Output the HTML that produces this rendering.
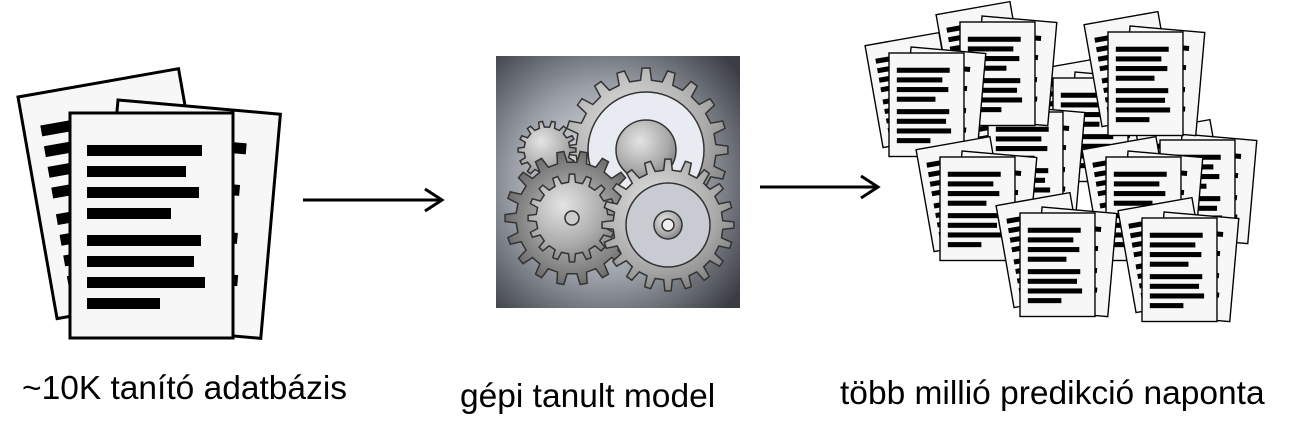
<!DOCTYPE html>
<html><head><meta charset="utf-8">
<style>
html,body{margin:0;padding:0;background:#fff;}
body{width:1291px;height:433px;position:relative;overflow:hidden;font-family:"Liberation Sans",sans-serif;}
.t{position:absolute;font-size:33.5px;line-height:1;color:#000;white-space:nowrap;}
</style></head><body>
<svg width="1291" height="433" style="position:absolute;left:0;top:0">
<defs>
<g id="pg">
<rect x="0" y="0" width="163" height="225" fill="#f7f7f7" stroke="#000" stroke-width="3"/>
<g fill="#000">
<rect x="17" y="32" width="115" height="11"/><rect x="17" y="53" width="99" height="11"/>
<rect x="17" y="74" width="112" height="11"/><rect x="17" y="95" width="84" height="11"/>
<rect x="17" y="122" width="114" height="11"/><rect x="17" y="143" width="107" height="11"/>
<rect x="17" y="164" width="118" height="11"/><rect x="17" y="185" width="73" height="11"/>
</g></g>
<g id="stack">
<use href="#pg" transform="translate(18,97) rotate(-10)"/>
<use href="#pg" transform="translate(118,100) rotate(5)"/>
<use href="#pg" transform="translate(70,113)"/>
</g>
<radialGradient id="bg" cx="0.45" cy="0.5" r="0.7">
<stop offset="0" stop-color="#f4f5f8"/><stop offset="0.55" stop-color="#9a9ea6"/><stop offset="1" stop-color="#3a3d44"/>
</radialGradient>
<radialGradient id="metal" cx="0.4" cy="0.35" r="0.8">
<stop offset="0" stop-color="#e4e4e4"/><stop offset="0.6" stop-color="#a8a8a8"/><stop offset="1" stop-color="#6e6e6e"/>
</radialGradient>
<radialGradient id="dark" cx="0.5" cy="0.5" r="0.6">
<stop offset="0" stop-color="#d8d8d8"/><stop offset="0.6" stop-color="#8a8a8a"/><stop offset="1" stop-color="#5a5a5a"/>
</radialGradient>
</defs>
<use href="#stack"/>
<g id="many"></g>
<line x1="303" y1="200" x2="440" y2="200" stroke="#000" stroke-width="3"/>
<polyline points="425,189 442,200 425,211" fill="none" stroke="#000" stroke-width="3"/>
<line x1="760" y1="187" x2="876" y2="187" stroke="#000" stroke-width="3"/>
<polyline points="861,176 878,187 861,198" fill="none" stroke="#000" stroke-width="3"/>
<rect x="496" y="56" width="244" height="252" fill="url(#bg)"/>
<g id="gears"></g>
</svg>
<div class="t" style="left:22px;top:372px">~10K tanító adatbázis</div>
<div class="t" style="left:460px;top:380px">gépi tanult model</div>
<div class="t" style="left:840px;top:377px">több millió predikció naponta</div>
<script>
var ns="http://www.w3.org/2000/svg";
var s=0.46;
var order=[[1053,78],[988,112],[1160,140],[960,22],[1108,32],[889,53],[940,157],[1106,157],[1020,213],[1142,218]];
var m=document.getElementById("many");
order.forEach(function(p){var u=document.createElementNS(ns,"use");u.setAttribute("href","#stack");
u.setAttribute("transform","translate("+(p[0]-70*s)+","+(p[1]-113*s)+") scale("+s+")");m.appendChild(u);});
function gear(cx,cy,r,n,th,fill){var d="";for(var i=0;i<n;i++){var a=i*2*Math.PI/n,w=Math.PI/n;
var pts=[[a-w*0.5,r-th],[a-w*0.3,r],[a+w*0.3,r],[a+w*0.5,r-th],[a+w*1.5,r-th]];
pts.forEach(function(q,j){var x=cx+q[1]*Math.cos(q[0]),y=cy+q[1]*Math.sin(q[0]);d+=(i==0&&j==0?"M":"L")+x.toFixed(1)+","+y.toFixed(1);});}
d+="Z";var p=document.createElementNS(ns,"path");p.setAttribute("d",d);p.setAttribute("fill",fill);p.setAttribute("stroke","#333");p.setAttribute("stroke-width","1.5");document.getElementById("gears").appendChild(p);}
function circ(cx,cy,r,fill){var c=document.createElementNS(ns,"circle");c.setAttribute("cx",cx);c.setAttribute("cy",cy);c.setAttribute("r",r);c.setAttribute("fill",fill);c.setAttribute("stroke","#333");c.setAttribute("stroke-width","1.5");document.getElementById("gears").appendChild(c);}
gear(646,150,82,20,12,"url(#metal)");
circ(646,150,58,"#e8ecf2");circ(646,150,30,"url(#metal)");
gear(547,150,29,14,6,"url(#metal)");
gear(572,218,67,18,11,"url(#dark)");
gear(572,218,44,16,8,"url(#metal)");circ(572,218,7,"#ccc");
gear(668,225,66,20,11,"url(#metal)");
circ(668,225,42,"#c8ccd2");circ(668,225,14,"url(#metal)");circ(668,225,6,"#eee");
</script>
</body></html>
